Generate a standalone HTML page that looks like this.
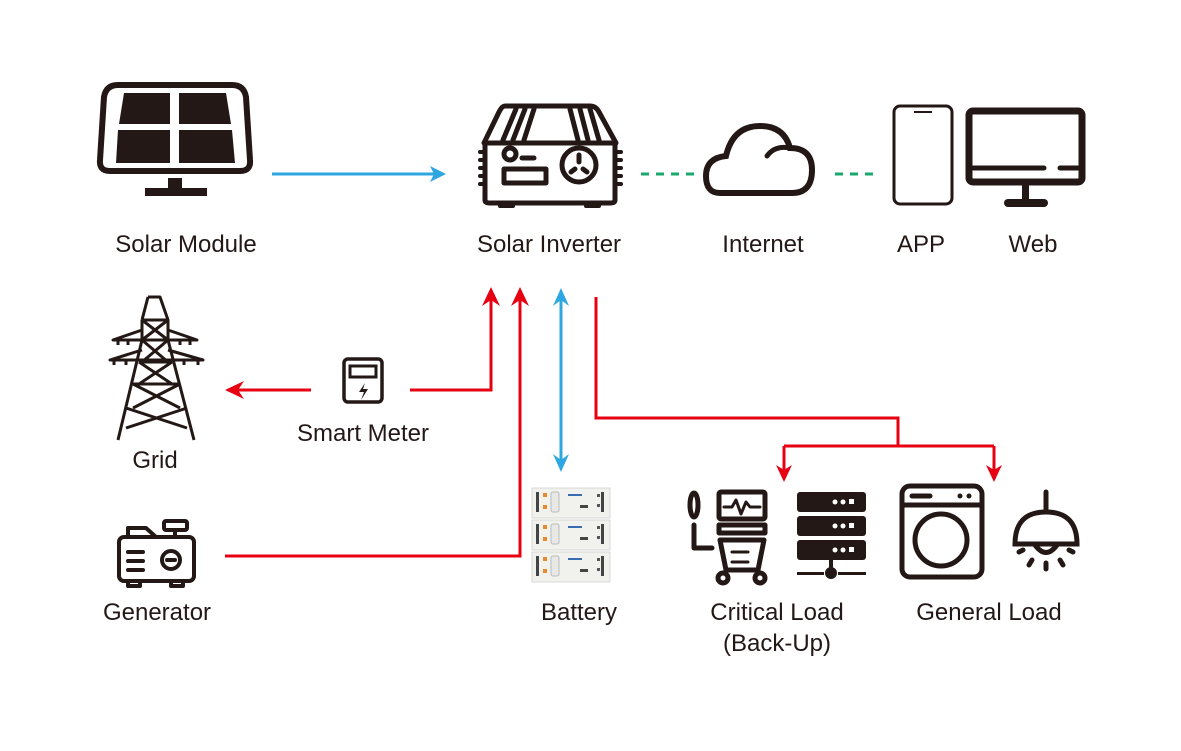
<!DOCTYPE html>
<html><head><meta charset="utf-8"><style>
html,body{margin:0;padding:0;background:#fff;}
svg{display:block}
text{font-family:"Liberation Sans",sans-serif;font-size:24px;fill:#231815;text-anchor:middle}
</style></head><body>
<svg width="1181" height="751" viewBox="0 0 1181 751" xmlns="http://www.w3.org/2000/svg">
<g fill="none" stroke="#231815" stroke-width="6" stroke-linejoin="round" stroke-linecap="round">
<path d="M118,85 H232 Q244,85 246,97 L250,160 Q251,171 240,171 H110 Q99,171 100,160 L104,97 Q106,85 118,85 Z"/>
</g>
<g fill="#231815">
<path d="M124,93 H170 V124 H119 Z"/><path d="M179,93 H226 L231,124 H179 Z"/>
<path d="M118,130 H170 V163 H116 Z"/><path d="M179,130 H232 L235,163 H179 Z"/>
<rect x="168" y="178" width="14" height="12"/><rect x="145" y="188" width="62" height="8"/>
</g>
<g fill="none" stroke="#231815" stroke-width="5" stroke-linecap="round" stroke-linejoin="round">
<path d="M505,106 H590 Q596,106 599,112 L616,143 H484 L499,112 Q502,106 505,106 Z"/>
<path d="M516,109 L503,140 M525,109 L513,140 M534,109 L524,140 M570,109 L578,140 M580,109 L588,140 M590,109 L599,140"/>
<path d="M485,143 V200 Q485,203 490,203 H610 Q615,203 615,200 V143"/>
<circle cx="510" cy="154" r="6"/><path d="M522,158 H534"/>
<rect x="504" y="169" width="42" height="14"/>
<circle cx="579" cy="165" r="17"/>
<path d="M579,155 V162 M571,172 L575,169 M587,172 L583,169"/>
</g>
<g fill="#231815">
<rect x="478" y="150" width="9" height="4" rx="2"/><rect x="478" y="158" width="9" height="4" rx="2"/><rect x="478" y="166" width="9" height="4" rx="2"/><rect x="478" y="174" width="9" height="4" rx="2"/><rect x="478" y="182" width="9" height="4" rx="2"/>
<rect x="614" y="150" width="9" height="4" rx="2"/><rect x="614" y="158" width="9" height="4" rx="2"/><rect x="614" y="166" width="9" height="4" rx="2"/><rect x="614" y="174" width="9" height="4" rx="2"/><rect x="614" y="182" width="9" height="4" rx="2"/>
<rect x="498" y="203" width="17" height="5" rx="2"/><rect x="584" y="203" width="17" height="5" rx="2"/>
</g>
<path d="M720,193 H792 Q812,193 812,170 Q812,148 790,148 Q784,126 760,126 Q733,126 726,156 Q706,158 706,176 Q706,193 720,193 Z" fill="none" stroke="#231815" stroke-width="6"/>
<path d="M767,156 Q775,145 790,148" fill="none" stroke="#231815" stroke-width="5" stroke-linecap="round"/>
<rect x="894" y="106" width="58" height="98" rx="6" fill="none" stroke="#231815" stroke-width="3"/>
<path d="M914,112 H932" stroke="#231815" stroke-width="2"/>
<rect x="969" y="111" width="113" height="71" rx="4" fill="none" stroke="#231815" stroke-width="7"/>
<path d="M973,168 H1044 M1060,168 H1080" stroke="#231815" stroke-width="5" stroke-linecap="round"/>
<rect x="1022" y="185" width="7" height="16" fill="#231815"/><rect x="1004" y="199" width="44" height="8" rx="4" fill="#231815"/>
<path d="M641,174 H696 M835,174 H880" stroke="#1aa86e" stroke-width="3" stroke-dasharray="8,7"/>
<path d="M272,174 H440" stroke="#2ea7e0" stroke-width="3"/>
<path d="M446,174 L430,166 L434,174 L430,182 Z" fill="#2ea7e0"/>
<text x="186" y="252">Solar Module</text>
<text x="549" y="252">Solar Inverter</text>
<text x="763" y="252">Internet</text>
<text x="921" y="252">APP</text>
<text x="1033" y="252">Web</text>
<g fill="none" stroke="#231815" stroke-width="3" stroke-linejoin="round">
<path d="M148,297 H160 L168,320 V340 L194,440 M142,320 L148,297 M142,320 V340 L118,440 M142,320 H168"/>
<path d="M142,320 L168,340 M168,320 L142,340 M142,340 L168,362 M168,340 L142,362 M139,362 L172,384 M172,362 L139,384 M133,384 L180,408 M180,384 L133,408 M126,408 L187,428 M187,408 L126,428 M142,340 H168 M139,362 H172 M133,384 H180"/>
<path d="M142,330 L113,340 H197 L168,330 M142,350 L110,360 H203 L168,350"/>
<path d="M118,340 V345 M128,340 V345 M180,340 V345 M190,340 V345 M114,360 V365 M126,360 V365 M184,360 V365 M198,360 V365"/>
</g>
<text x="155" y="468">Grid</text>
<rect x="344" y="359" width="38" height="43" rx="4" fill="none" stroke="#231815" stroke-width="3.5"/>
<rect x="350" y="366" width="26" height="11" fill="none" stroke="#231815" stroke-width="3"/>
<path d="M365,383 L359,392 H364 L361,400 L368,389 H363 Z" fill="#231815"/>
<text x="363" y="441">Smart Meter</text>
<g fill="none" stroke="#231815" stroke-width="4" stroke-linejoin="round" stroke-linecap="round">
<rect x="119" y="537" width="75" height="44" rx="5"/>
<path d="M128,537 V528 H146 L156,537"/>
<rect x="164" y="521" width="23" height="9" rx="2"/><path d="M175,530 V537"/>
<path d="M128,552 H143 M128,561 H143 M128,570 H143"/>
<circle cx="171" cy="560" r="9"/><path d="M167,560 H175"/>
<path d="M128,581 V586 H140 V581 M171,581 V586 H183 V581"/>
</g>
<text x="157" y="620">Generator</text>
<g fill="none" stroke="#e60012" stroke-width="3">
<path d="M311,390 H235"/>
<path d="M410,390 H491 V298"/>
<path d="M225,556 H520 V298"/>
<path d="M596,297 V418 H898 V446"/>
<path d="M784,446 H994"/>
<path d="M784,446 V472"/>
<path d="M994,446 V472"/>
</g>
<path d="M225,390 L244,381 L238,390 L244,399 Z" fill="#e60012"/>
<path d="M491,287 L482,306 L491,300 L500,306 Z" fill="#e60012"/>
<path d="M520,287 L511,306 L520,300 L529,306 Z" fill="#e60012"/>
<path d="M784,482 L776,465 L784,470 L792,465 Z" fill="#e60012"/>
<path d="M994,482 L986,465 L994,470 L1002,465 Z" fill="#e60012"/>
<path d="M561,298 V462" stroke="#2ea7e0" stroke-width="3"/>
<path d="M561,288 L553,306 L561,300 L569,306 Z M561,472 L553,454 L561,460 L569,454 Z" fill="#2ea7e0"/>
<g>
<rect x="532" y="488" width="78" height="30" fill="#f1f1ee" stroke="#d8d8d4"/>
<rect x="532" y="520" width="78" height="30" fill="#f1f1ee" stroke="#d8d8d4"/>
<rect x="532" y="552" width="78" height="30" fill="#f1f1ee" stroke="#d8d8d4"/>
<g id="bm">
<rect x="536" y="492" width="3" height="20" fill="#444"/><rect x="601" y="492" width="3" height="20" fill="#444"/>
<rect x="543" y="493" width="4" height="4" fill="#e8892a"/><rect x="543" y="505" width="4" height="4" fill="#e8892a"/>
<rect x="551" y="492" width="8" height="20" rx="2" fill="#e8e8e6" stroke="#bbb"/>
<rect x="568" y="494" width="14" height="2" fill="#3a6ab0"/>
<rect x="580" y="505" width="8" height="3" fill="#444"/><rect x="597" y="494" width="3" height="3" fill="#555"/><rect x="597" y="504" width="3" height="3" fill="#555"/>
</g>
<use href="#bm" y="32"/><use href="#bm" y="64"/>
</g>
<text x="579" y="620">Battery</text>
<g fill="none" stroke="#231815" stroke-width="5" stroke-linecap="round" stroke-linejoin="round">
<ellipse cx="694" cy="505" rx="4" ry="12"/>
<path d="M694,525 V548 H712"/>
<rect x="719" y="492" width="46" height="27" rx="2"/>
<path d="M724,507 H732 L736,500 L741,514 L746,502 L750,507 H760" stroke-width="3"/>
<rect x="719" y="525" width="46" height="8"/>
<path d="M720,540 H764 L758,570 H726 Z"/>
<path d="M732,552 H748 M732,562 H748" stroke-width="3"/>
<circle cx="723" cy="578" r="5"/><circle cx="760" cy="578" r="5"/>
</g>
<g fill="#231815">
<rect x="797" y="492" width="69" height="20" rx="3"/><rect x="797" y="516" width="69" height="20" rx="3"/><rect x="797" y="540" width="69" height="20" rx="3"/>
<rect x="829" y="560" width="4" height="10"/><circle cx="831" cy="573" r="6"/>
<rect x="797" y="572" width="27" height="3"/><rect x="838" y="572" width="28" height="3"/>
</g>
<g fill="#fff"><circle cx="835" cy="502" r="2.5"/><circle cx="843" cy="502" r="2.5"/><rect x="849" y="499" width="5" height="5"/>
<circle cx="835" cy="526" r="2.5"/><circle cx="843" cy="526" r="2.5"/><rect x="849" y="523" width="5" height="5"/>
<circle cx="835" cy="550" r="2.5"/><circle cx="843" cy="550" r="2.5"/><rect x="849" y="547" width="5" height="5"/></g>
<g fill="none" stroke="#231815" stroke-width="5" stroke-linecap="round">
<rect x="902" y="486" width="80" height="91" rx="8"/>
<path d="M903,505 H981"/><path d="M912,496 H930"/>
<circle cx="941" cy="540" r="26"/>
</g>
<circle cx="960" cy="496" r="2.5" fill="#231815"/><circle cx="969" cy="496" r="2.5" fill="#231815"/>
<g fill="none" stroke="#231815" stroke-width="5" stroke-linecap="round">
<path d="M1046,492 V512"/>
<path d="M1015,544 Q1015,512 1046,512 Q1077,512 1077,544 Z"/>
<path d="M1035,545 Q1046,560 1057,545"/>
<path d="M1023,550 L1019,552 M1069,550 L1073,552 M1032,560 L1029,565 M1060,560 L1063,565 M1046,563 V569"/>
</g>
<text x="777" y="620">Critical Load</text>
<text x="777" y="651">(Back-Up)</text>
<text x="989" y="620">General Load</text>
</svg>
</body></html>
